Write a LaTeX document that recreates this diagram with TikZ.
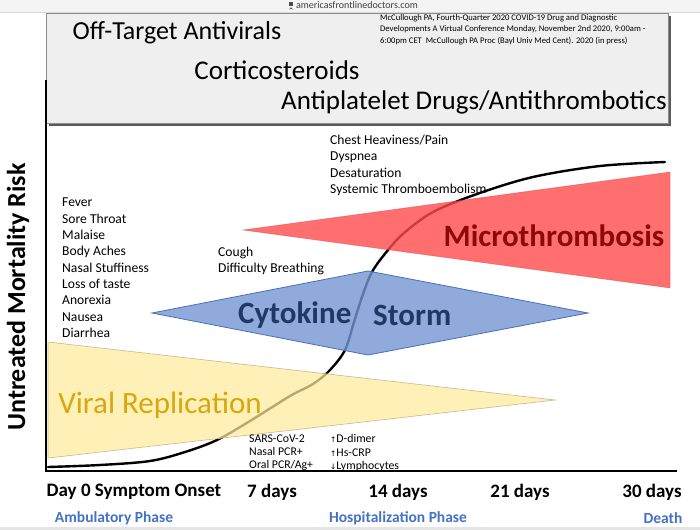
\documentclass[tikz,border=0pt]{standalone}
\usepackage{fontspec}
\setmainfont{Carlito}
\newfontfamily\symfont{DejaVu Sans}
\definecolor{boxfill}{HTML}{EFEFEF}
\definecolor{boxline}{HTML}{8C8C8C}
\definecolor{boxshadow}{HTML}{5A5A5A}
\definecolor{redtri}{HTML}{FF4B4B}
\definecolor{redtxt}{HTML}{8C0A0A}
\definecolor{bluedia}{HTML}{7395D3}
\definecolor{blueline}{HTML}{4A6FB8}
\definecolor{bluetxt}{HTML}{1F3864}
\definecolor{yeltri}{HTML}{FFEB9C}
\definecolor{yelline}{HTML}{C8B98A}
\definecolor{yeltxt}{HTML}{D9A60C}
\definecolor{phase}{HTML}{4472C4}
\definecolor{barfill}{HTML}{F4F4F4}
\tikzset{
  hdr/.style={font=\fontsize{27}{30}\selectfont, inner sep=0pt},
  symp/.style={font=\fontsize{13.6}{16.3}\selectfont, align=left, anchor=north west, inner sep=0pt},
  lab/.style={font=\fontsize{11.8}{13.3}\selectfont, align=left, anchor=north west, inner sep=0pt},
  xlab/.style={font=\bfseries\fontsize{19}{22}\selectfont, inner sep=0pt},
  phaselab/.style={font=\bfseries\fontsize{15.5}{18}\selectfont, text=phase, inner sep=0pt},
  big/.style={font=\bfseries\fontsize{31}{34}\selectfont, inner sep=0pt},
  axisline/.style={line width=2.6pt, black},
}
\begin{document}
\begin{tikzpicture}[x=1pt,y=-1pt]
\useasboundingbox (0,0) rectangle (700,530);
\fill[white] (0,0) rectangle (700,530);
% browser bar
\fill[barfill] (0,0) rectangle (700,12);
\draw[black!15] (0,12) -- (700,12);
\fill[black!10] (0,527) rectangle (700,530);
\node[font=\fontsize{10}{11}\selectfont, text=black!75, inner sep=0pt] (url) at (357,5.5) {americasfrontlinedoctors.com};
\fill[black!70] ([xshift=-7pt,yshift=-0.5pt]url.west) rectangle ++(4.2,-3.6);
\draw[black!70, line width=0.7pt] ([xshift=-6.3pt,yshift=-3.8pt]url.west) arc[start angle=180,end angle=0,radius=1.4pt];
% header box
\fill[boxshadow] (49,16) rectangle (671,126);
\draw[boxline, fill=boxfill, line width=0.8pt] (46,13) rectangle (668,123);
\node[hdr, font=\fontsize{26}{30}\selectfont] (ota) at (177,33) {Off-Target Antivirals};
\node[hdr] (cort) at (277,70) {Corticosteroids};
\node[hdr] (apd) at (474,102) {Antiplatelet Drugs/Antithrombotics};
\node[font=\fontsize{8.6}{11.8}\selectfont, align=left, anchor=north west, inner sep=0pt] (cite) at (380,14)
  {McCullough PA, Fourth-Quarter 2020 COVID-19 Drug and Diagnostic\\
   Developments A Virtual Conference Monday, November 2nd 2020, 9:00am -\\
   6:00pm CET\ \ McCullough PA Proc (Bayl Univ Med Cent). 2020 (in press)};
% mortality curve (under the translucent shapes)
\draw[line width=2.4pt, black, line cap=round] plot[smooth, tension=0.55] coordinates {
 (48,467) (100,465) (150,461) (185,452) (217,440) (250,421) (290,396) (313,384)
 (330,370) (345,350) (354,322) (362,297) (372,272) (388,250) (404,233) (433,212)
 (477,194) (533,177) (600,166) (665,162)};
% shapes
\coordinate (rtip) at (243,230);
\coordinate (rtop) at (670,172);
\coordinate (rbot) at (670,288);
\fill[redtri, fill opacity=0.8] (rtip) -- (rtop) -- (rbot) -- cycle;
\draw[redtri!80!black, line width=0.5pt, opacity=0.5] (rtip) -- (rtop) -- (rbot) -- cycle;
\coordinate (dl) at (152,313);
\coordinate (dt) at (368,271);
\coordinate (dr) at (588,313);
\coordinate (db) at (368,355);
\fill[bluedia, fill opacity=0.8] (dl) -- (dt) -- (dr) -- (db) -- cycle;
\draw[blueline, line width=0.8pt] (dl) -- (dt) -- (dr) -- (db) -- cycle;
\coordinate (yt) at (48,342);
\coordinate (yb) at (48,458);
\coordinate (yr) at (555,400);
\fill[yeltri, fill opacity=0.72] (yt) -- (yr) -- (yb) -- cycle;
\draw[yelline, line width=0.6pt] (yt) -- (yr) -- (yb) -- cycle;
% axes
\draw[axisline] (46,80) -- (46,471) -- (677,471);
% shape labels
\node[big, text=redtxt] (micro) at (554,236) {Microthrombosis};
\node[big, text=bluetxt, anchor=west] (cyto) at (238,315) {Cytokine};
\node[big, text=bluetxt, anchor=west] (storm) at (373,315) {Storm};
\node[font=\fontsize{31}{34}\selectfont, text=yeltxt, inner sep=0pt] (viral) at (160,405) {Viral Replication};
% symptom lists
\node[symp] (early) at (62,198) {Fever\\Sore Throat\\Malaise\\Body Aches\\Nasal Stuffiness\\Loss of taste\\Anorexia\\Nausea\\Diarrhea};
\node[symp] (cough) at (218,247) {Cough\\Difficulty Breathing};
\node[symp] (chest) at (330,135) {Chest Heaviness/Pain\\Dyspnea\\Desaturation\\Systemic Thromboembolism};
\node[lab] (sars) at (249,434.5) {SARS-CoV-2\\Nasal PCR+\\Oral PCR/Ag+};
\node[lab] (markers) at (330,434.5) {{\symfont\fontsize{7.5}{8}\selectfont ↑}D-dimer\\{\symfont\fontsize{7.5}{8}\selectfont ↑}Hs-CRP\\{\symfont\fontsize{7.5}{8}\selectfont ↓}Lymphocytes};
% axis labels
\node[font=\bfseries\fontsize{26}{29}\selectfont, rotate=90, inner sep=0pt] (ylab) at (18,297) {Untreated Mortality Risk};
\node[xlab] (d0) at (134,492) {Day 0 Symptom Onset};
\node[xlab] (d7) at (272,492) {7 days};
\node[xlab] (d14) at (398,492) {14 days};
\node[xlab] (d21) at (520,492) {21 days};
\node[xlab] (d30) at (652,492) {30 days};
\node[phaselab] (amb) at (114,518) {Ambulatory Phase};
\node[phaselab] (hosp) at (398,518) {Hospitalization Phase};
\node[phaselab] (death) at (663,518) {Death};
\end{tikzpicture}
\end{document}
